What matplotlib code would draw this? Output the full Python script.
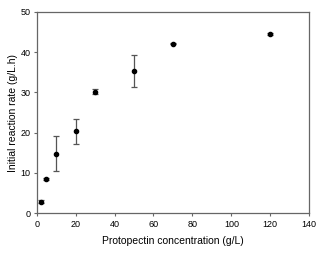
import matplotlib
matplotlib.use("Agg")
import matplotlib.pyplot as plt

# protopectin concentration (g/L) vs initial reaction rate (g/L.h)
conc = [2, 5, 10, 20, 30, 50, 70, 120]
rate = [2.9, 8.5, 14.8, 20.3, 30.2, 35.3, 42.1, 44.5]
rate_err = [0.4, 0.2, 4.4, 3.1, 0.7, 4.0, 0.2, 0.2]

x_ticks = [0, 20, 40, 60, 80, 100, 120, 140]
y_ticks = [0, 10, 20, 30, 40, 50]

plt.rcParams['font.family'] = ['Liberation Sans', 'DejaVu Sans']

fig = plt.figure(figsize=(3.26, 2.69), dpi=100)
ax = fig.add_axes([0.1125, 0.207, 0.836, 0.7495])

ax.errorbar(conc, rate, yerr=rate_err, fmt='o', color='black', ms=3,
            ecolor='#555555', elinewidth=0.9, capsize=2.5, capthick=0.9)

ax.set_xlim(0, 140)
ax.set_ylim(0, 50)
ax.set_xticks(x_ticks)
ax.set_yticks(y_ticks)

for s in ax.spines.values():
    s.set_color('#666666')
    s.set_linewidth(0.9)
ax.tick_params(direction='out', length=2.5, width=0.8, color='#666666',
               labelsize=6.5, pad=2)

ax.set_xlabel('Protopectin concentration (g/L)', fontsize=7.5, labelpad=5)
ax.set_ylabel('Initial reaction rate (g/L.h)', fontsize=7.5, labelpad=2)

fig.savefig('out.png', dpi=100)
